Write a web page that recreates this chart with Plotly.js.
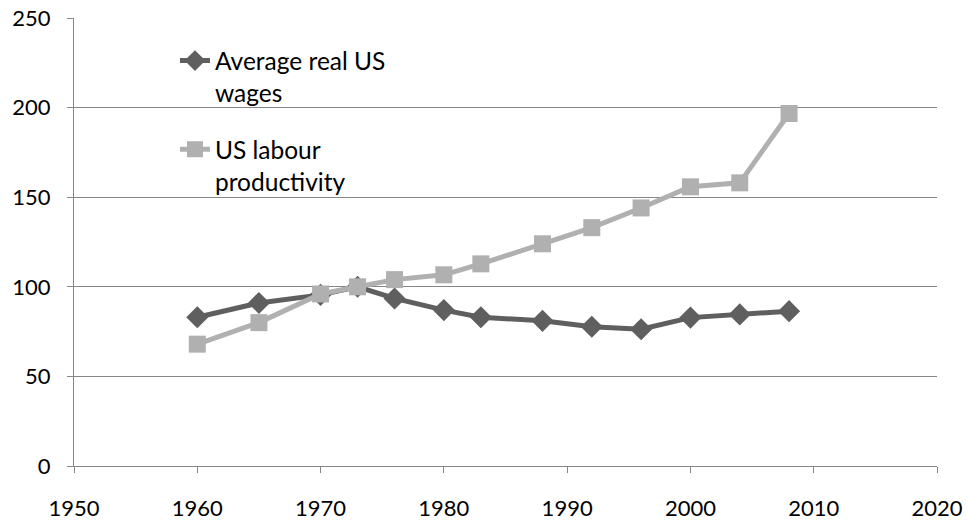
<!DOCTYPE html>
<html>
<head>
<meta charset="utf-8">
<script src="https://cdn.plot.ly/plotly-3.0.1.min.js"></script>
<style>html,body{margin:0;padding:0;background:#fff;}#chart{width:969px;height:525px;}</style>
</head>
<body>
<div id="chart"></div>
<script>
const years = [1960, 1965, 1970, 1973, 1976, 1980, 1983, 1988, 1992, 1996, 2000, 2004, 2008];
const wages = [83, 91, 95.5, 100, 93.5, 87, 83, 81, 77.7, 76.3, 82.8, 84.6, 86.4];
const productivity = [68, 80, 96, 100, 104, 106.7, 112.8, 124, 133, 144, 155.8, 158, 196.7];
const seriesNames = ["Average real US<br>wages", "US labour<br>productivity"];
const xTicks = [1950, 1960, 1970, 1980, 1990, 2000, 2010, 2020];
const yTicks = [0, 50, 100, 150, 200, 250];

const font = {family: "Lato, 'Open Sans', sans-serif", size: 22, color: "#000"};
const legendFont = {family: "Lato, 'Open Sans', sans-serif", size: 24.5, color: "#000"};

const traces = [
  {x: years, y: wages, name: seriesNames[0], mode: "lines+markers", legendgroup: "a",
   line: {color: "#5f5f5f", width: 5},
   marker: {symbol: "diamond", size: 17, color: "#5f5f5f"}},
  {x: years, y: productivity, name: seriesNames[1], mode: "lines+markers", legendgroup: "b",
   line: {color: "#b0b0b0", width: 5},
   marker: {symbol: "square", size: 17, color: "#b0b0b0"}}
];

const layout = {
  width: 969, height: 525,
  margin: {l: 74, r: 32, t: 18, b: 59},
  paper_bgcolor: "#fff", plot_bgcolor: "#fff",
  font: font,
  showlegend: true,
  legend: {x: 0.117, y: 0.955, xanchor: "left", yanchor: "top", bgcolor: "rgba(0,0,0,0)",
           font: legendFont, valign: "top", tracegroupgap: 22, traceorder: "grouped"},
  xaxis: {range: [1950, 2020], tickvals: xTicks, ticktext: xTicks.map(String),
          showgrid: false, zeroline: false, showline: true, linecolor: "#868686", linewidth: 1,
          ticks: "outside", ticklen: 6, tickcolor: "#868686", tickfont: font, ticklabelstandoff: 17},
  yaxis: {range: [0, 250], tickvals: yTicks, ticktext: yTicks.map(String),
          showgrid: true, gridcolor: "#868686", gridwidth: 1, zeroline: false,
          showline: true, linecolor: "#868686", linewidth: 1,
          ticks: "outside", ticklen: 6, tickcolor: "#868686", tickfont: font, ticklabelstandoff: 12}
};

Plotly.newPlot("chart", traces, layout, {displayModeBar: false, staticPlot: true});
</script>
</body>
</html>
